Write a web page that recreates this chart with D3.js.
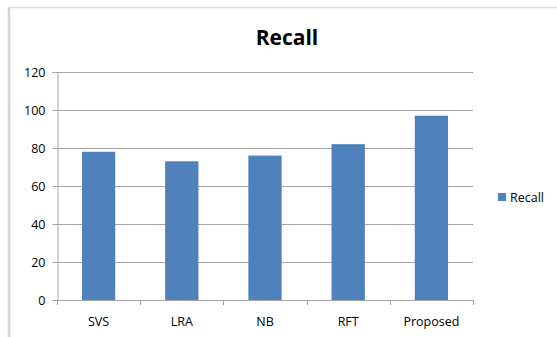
<!DOCTYPE html>
<html>
<head>
<meta charset="utf-8">
<script src="https://cdn.jsdelivr.net/npm/d3@7"></script>
<style>
  html, body { margin: 0; padding: 0; background: #fff; }
  svg { display: block; font-family: "Open Sans", Lato, sans-serif; }
</style>
</head>
<body>
<svg id="chart" width="557" height="337"></svg>
<script>
// Recall per method
const categories = ["SVS", "LRA", "NB", "RFT", "Proposed"];
const recall = [78, 73, 76, 82, 97];
const yTicks = [0, 20, 40, 60, 80, 100, 120];
const seriesName = "Recall";

const svg = d3.select("#chart");
const FONT = "'Open Sans', Lato, sans-serif";

// chart frame (left and top edges visible)
svg.append("line").attr("x1", 9).attr("x2", 9).attr("y1", 7).attr("y2", 337)
  .attr("stroke", "#d4d4d4").attr("stroke-width", 2.5);
svg.append("line").attr("x1", 9).attr("x2", 557).attr("y1", 7.5).attr("y2", 7.5)
  .attr("stroke", "#e0e0e0").attr("stroke-width", 1.5);

const plot = { left: 57, right: 473, top: 72, bottom: 300 };

const x = d3.scaleBand().domain(categories).range([plot.left, plot.right])
  .paddingInner(0.6).paddingOuter(0.3);
const xEdges = d3.scaleLinear().domain([0, categories.length]).range([plot.left, plot.right]);
const y = d3.scaleLinear().domain([0, 120]).range([plot.bottom, plot.top]);

// gridlines
svg.append("g").selectAll("line").data(yTicks.filter(t => t > 0)).join("line")
  .attr("x1", plot.left).attr("x2", plot.right)
  .attr("y1", d => Math.round(y(d)) + 0.5).attr("y2", d => Math.round(y(d)) + 0.5)
  .attr("stroke", "#a6a6a6").attr("stroke-width", 1);

// bars
svg.append("g").selectAll("rect").data(recall).join("rect")
  .attr("x", (d, i) => x(categories[i]))
  .attr("width", x.bandwidth())
  .attr("y", d => y(d))
  .attr("height", d => y(0) - y(d))
  .attr("fill", "#4f81bd");

// y axis
const yAxis = d3.axisLeft(y).tickValues(yTicks).tickSize(5).tickPadding(7);
const gy = svg.append("g").attr("transform", `translate(${plot.left + 0.5},0)`).call(yAxis);
gy.select(".domain").attr("stroke", "#a6a6a6");
gy.selectAll(".tick line").attr("stroke", "#a6a6a6");
gy.selectAll(".tick text").attr("font-size", 12.5).attr("fill", "#000")
  .attr("font-family", FONT);

// x axis: baseline with ticks on category boundaries
const gx = svg.append("g");
gx.append("line").attr("x1", plot.left).attr("x2", plot.right)
  .attr("y1", plot.bottom + 0.5).attr("y2", plot.bottom + 0.5).attr("stroke", "#a6a6a6");
gx.selectAll("line.edge").data(d3.range(categories.length + 1)).join("line")
  .attr("class", "edge")
  .attr("x1", d => Math.round(xEdges(d)) + 0.5).attr("x2", d => Math.round(xEdges(d)) + 0.5)
  .attr("y1", plot.bottom).attr("y2", plot.bottom + 5)
  .attr("stroke", "#a6a6a6");
gx.selectAll("text").data(categories).join("text")
  .attr("x", d => x(d) + x.bandwidth() / 2)
  .attr("y", 326)
  .attr("text-anchor", "middle")
  .attr("font-size", 12.5)
  .attr("fill", "#000")
  .text(d => d);

// title
svg.append("text").attr("x", 287).attr("y", 45)
  .attr("text-anchor", "middle").attr("font-size", 21).attr("font-weight", "bold")
  .attr("fill", "#000").text("Recall");

// legend
svg.append("rect").attr("x", 498).attr("y", 193).attr("width", 8).attr("height", 8)
  .attr("fill", "#4f81bd");
svg.append("text").attr("x", 510).attr("y", 202)
  .attr("font-size", 12.5).attr("fill", "#000").text(seriesName);
</script>
</body>
</html>
